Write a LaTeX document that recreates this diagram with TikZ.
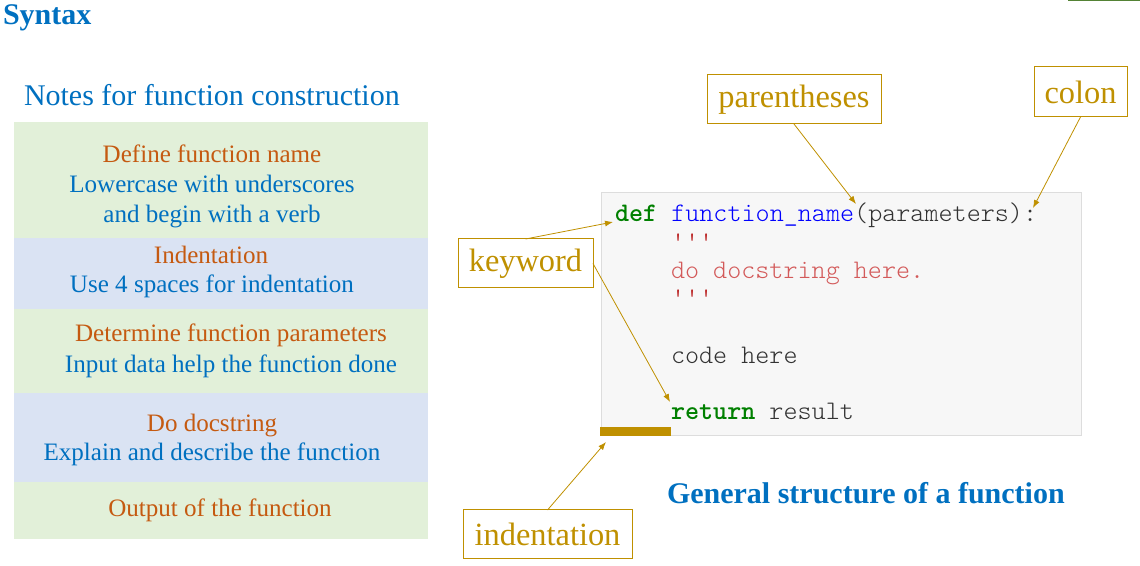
\documentclass[tikz,border=0pt]{standalone}
\usepackage{fontspec}
\setmainfont{Liberation Serif}
\newfontfamily\codefont{lmmonolt10-regular}[Extension=.otf, BoldFont=lmmonolt10-bold]
\usetikzlibrary{arrows.meta}
\definecolor{titleblue}{HTML}{0070C0}
\definecolor{noteorange}{HTML}{C55A11}
\definecolor{notegreen}{HTML}{E2F0D9}
\definecolor{noteblue}{HTML}{DAE3F3}
\definecolor{gold}{HTML}{BF9000}
\definecolor{kwgreen}{HTML}{008000}
\definecolor{fnblue}{HTML}{0000FF}
\definecolor{codegray}{HTML}{333333}
\definecolor{quotered}{HTML}{BA2121}
\definecolor{docred}{HTML}{D35A5A}
\definecolor{codebg}{HTML}{F7F7F7}
\definecolor{codeframe}{HTML}{DDDDDD}
\definecolor{linegreen}{HTML}{548235}
\newcommand{\tq}{\textquotesingle\textquotesingle\textquotesingle}

\begin{document}
\begin{tikzpicture}[x=0.75pt,y=-0.75pt]
  \tikzstyle{every node}=[inner sep=0pt,outer sep=0pt]
  \tikzstyle{title}=[anchor=base west, text=titleblue, font=\fontsize{22.5}{26}\selectfont]
  \tikzstyle{notebox}=[minimum width=310.5pt, anchor=north west]
  \tikzstyle{note}=[anchor=base, text=titleblue, font=\fontsize{18.8}{22}\selectfont]
  \tikzstyle{notehead}=[note, text=noteorange]
  \tikzstyle{code}=[anchor=base west, font=\codefont\fontsize{20.1}{24}\selectfont]
  \tikzstyle{callout}=[draw=gold, line width=0.75pt, text=gold, font=\fontsize{24.3}{28}\selectfont]
  \tikzstyle{pointer}=[draw=gold, line width=0.6pt, -{Latex[length=6pt,width=4.5pt]}]
  \useasboundingbox (0,0) rectangle (1140,566);
  \draw[linegreen, line width=1pt] (1068,0.7) -- (1140,0.7);

  % titles
  \node[title, font=\bfseries\fontsize{22.5}{26}\selectfont] (syntax) at (3,25) {Syntax};
  \node[title] (notes title) at (24,106) {Notes for function construction};
  \node[title, font=\bfseries\fontsize{22.5}{26}\selectfont] (code title) at (667,504) {General structure of a function};

  % notes
  \node[notebox, fill=notegreen, minimum height=87pt] (name box) at (14,122) {};
  \node[notebox, fill=noteblue, minimum height=53.25pt] (indent box) at (name box.south west) {};
  \node[notebox, fill=notegreen, minimum height=63pt] (param box) at (indent box.south west) {};
  \node[notebox, fill=noteblue, minimum height=66.75pt] (doc box) at (param box.south west) {};
  \node[notebox, fill=notegreen, minimum height=42.75pt] (output box) at (doc box.south west) {};

  \node[notehead] (n1) at (212,163) {Define function name};
  \node[note] (n2) at (212,193) {Lowercase with underscores};
  \node[note] (n3) at (212,223) {and begin with a verb};
  \node[notehead] (n4) at (211,264) {Indentation};
  \node[note] (n5) at (212,293) {Use 4 spaces for indentation};
  \node[notehead] (n6) at (231,342) {Determine function parameters};
  \node[note] (n7) at (231,373) {Input data help the function done};
  \node[notehead] (n8) at (212,432) {Do docstring};
  \node[note] (n9) at (212,461) {Explain and describe the function};
  \node[notehead] (n10) at (220,517) {Output of the function};

  % code
  \node[draw=codeframe, fill=codebg, line width=0.75pt, minimum width=360pt, minimum height=182.25pt] (code box) at (841,314.5) {};
  \node[fill=gold, minimum width=53.25pt, minimum height=6.75pt] (indent bar) at (635.5,431.5) {};
  \node[code] (c1) at (615,222) {\textcolor{kwgreen}{\bfseries def} \textcolor{fnblue}{function\_name}\textcolor{codegray}{(parameters):}};
  \node[code, text=quotered] (c2) at (671,251) {\tq};
  \node[code, text=docred] (c3) at (671,279) {do docstring here.};
  \node[code, text=quotered] (c4) at (671,307) {\tq};
  \node[code, text=codegray] (c5) at (671,364) {code here};
  \node[code] (c6) at (671,420) {\textcolor{kwgreen}{\bfseries return} \textcolor{codegray}{result}};

  % callouts
  \node[callout, minimum width=130.5pt, minimum height=36.75pt] (parentheses) at (794,99.5) {parentheses};
  \node[callout, minimum width=69.75pt, minimum height=37.5pt] (colon) at (1080.5,92) {colon};
  \node[callout, minimum width=101.25pt, minimum height=36.75pt] (keyword) at (525.5,263.5) {keyword};
  \node[callout, minimum width=126.75pt, minimum height=36.75pt] (indentation) at (547.5,534.5) {indentation};

  \coordinate (paren tip) at (856,204);
  \coordinate (colon tip) at (1033,208);
  \coordinate (def tip) at (613,222);
  \coordinate (return tip) at (670,402);
  \coordinate (bar tip) at (606,442);

  \draw[pointer] (parentheses.south) -- (paren tip);
  \draw[pointer] (colon.south) -- (colon tip);
  \draw[pointer] (keyword.north) -- (def tip);
  \draw[pointer] (keyword.east) -- (return tip);
  \draw[pointer] (indentation.north) -- (bar tip);
\end{tikzpicture}
\end{document}
